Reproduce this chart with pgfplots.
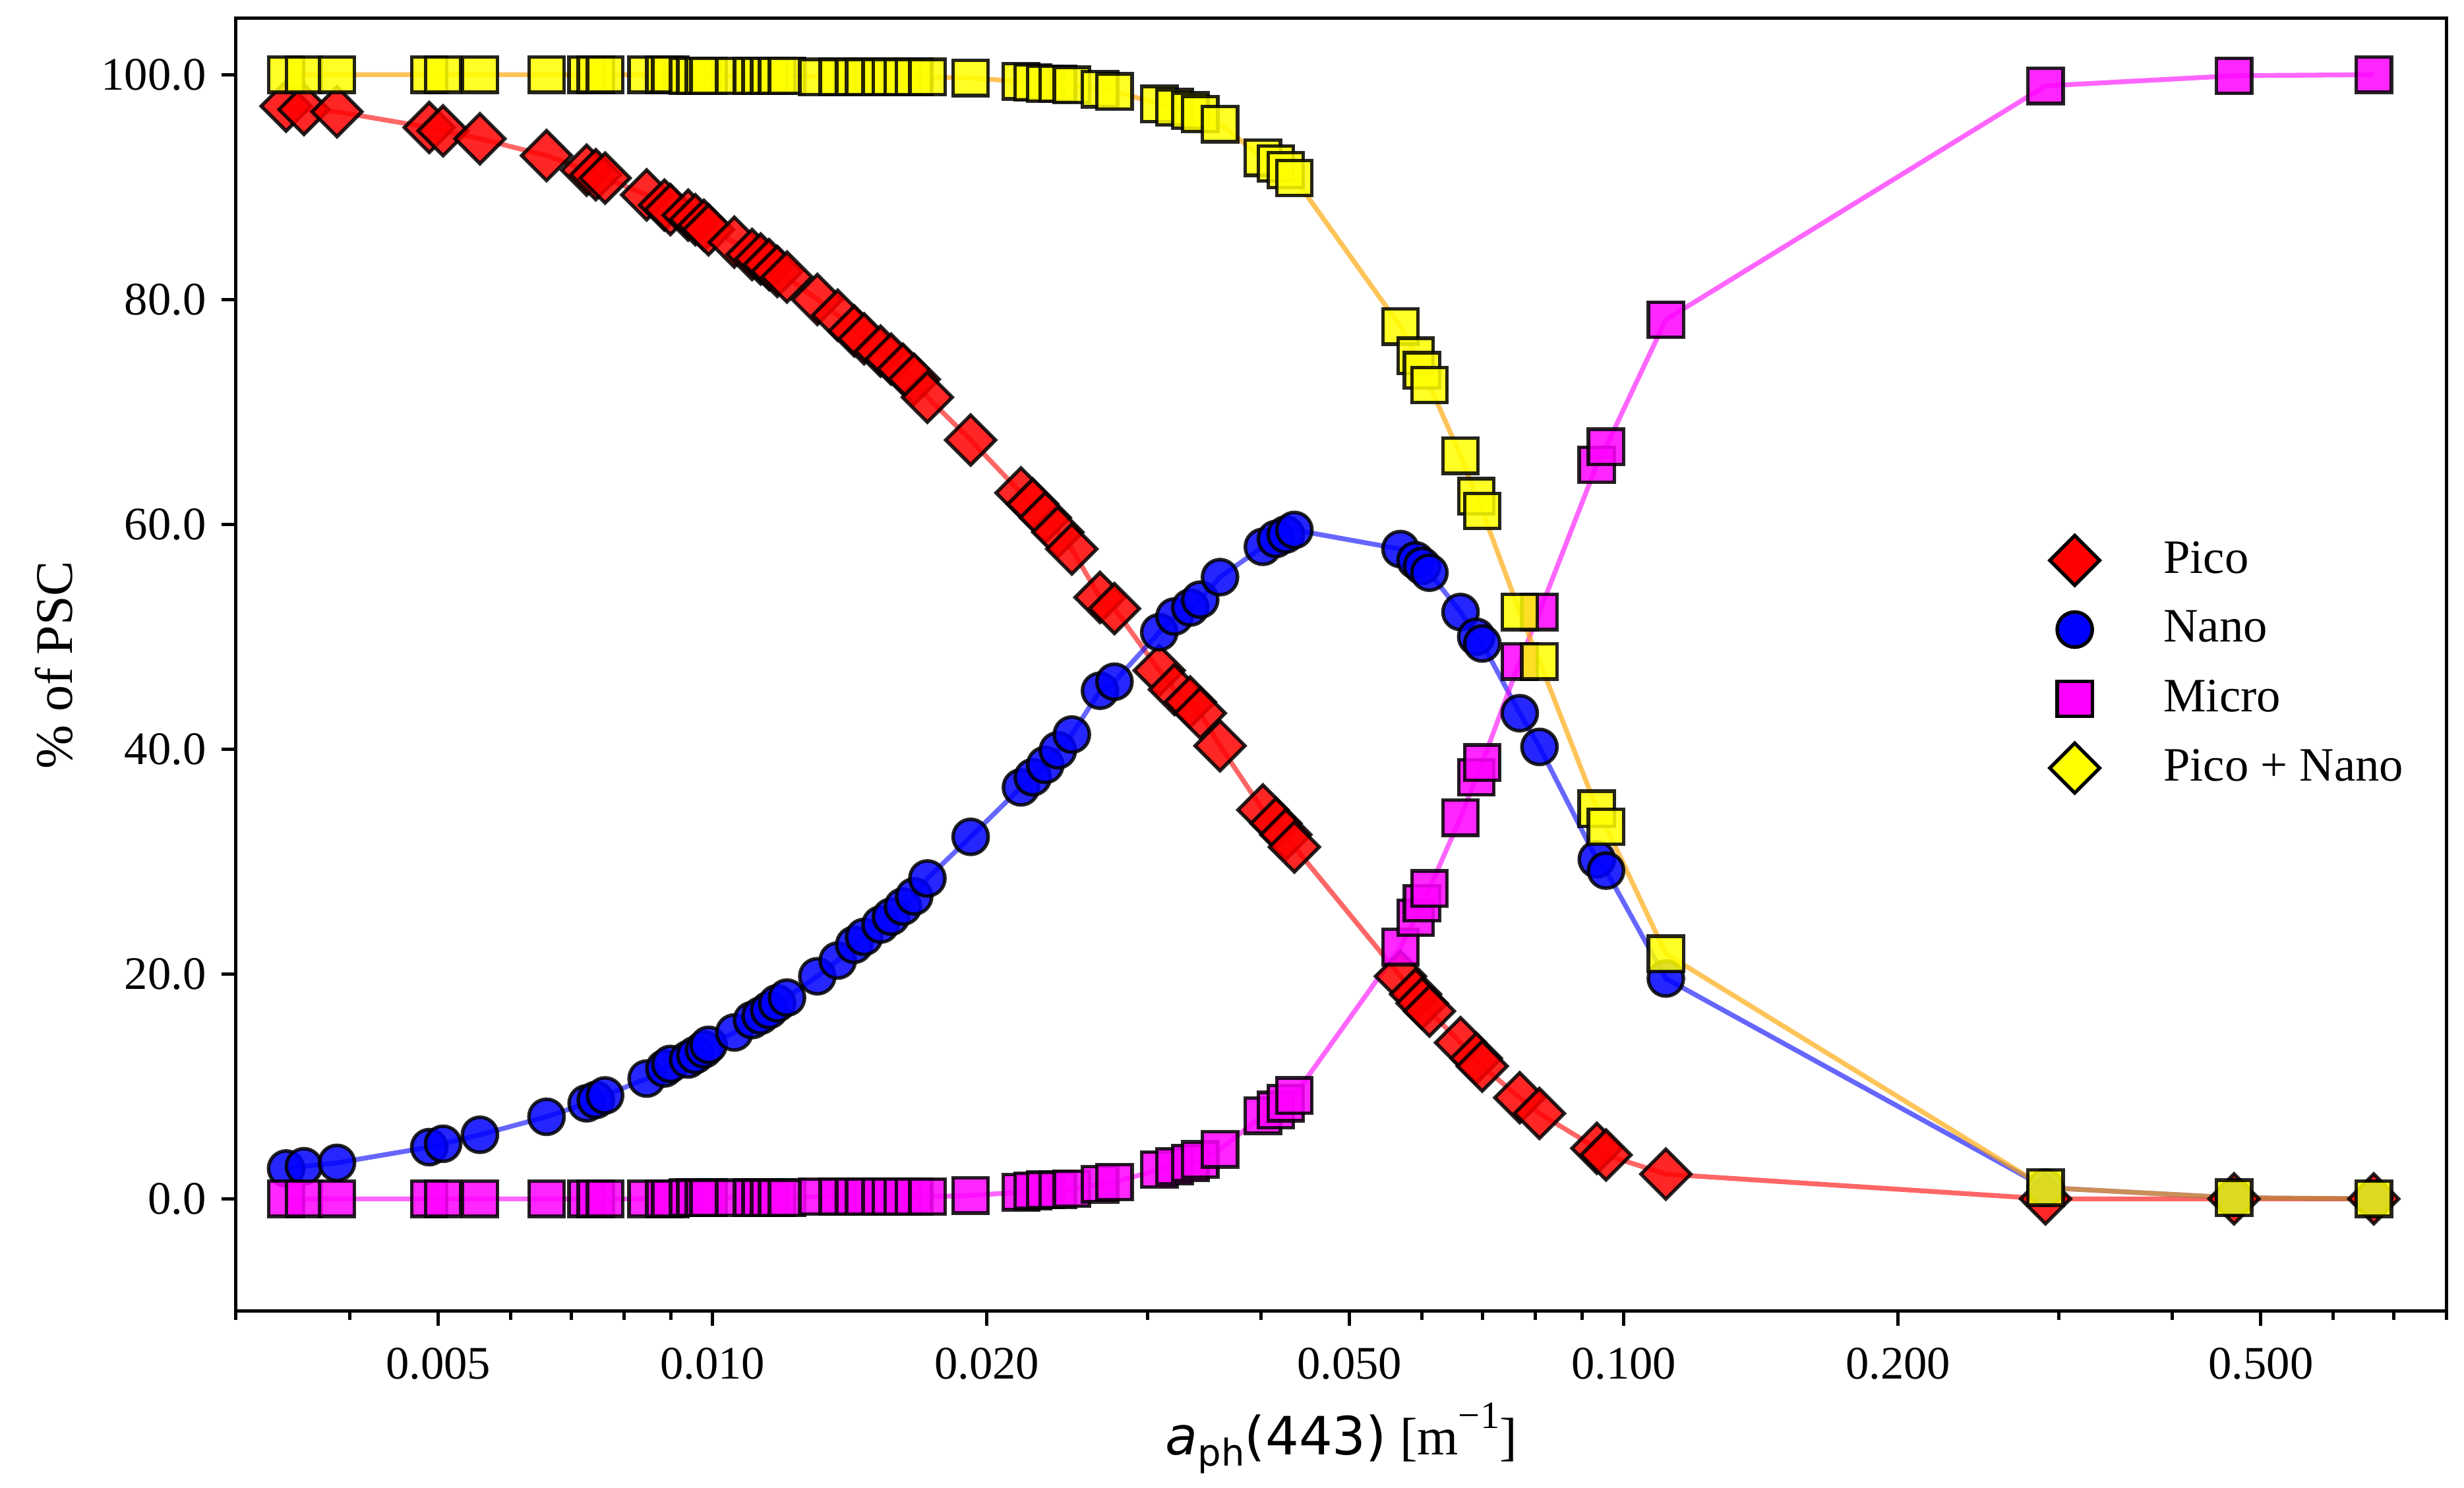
\documentclass[border=0pt]{standalone}
\usepackage{fontspec}
\setmainfont{Liberation Serif}
\newfontfamily\dejavu{DejaVu Sans}
\usepackage{pgfplots}
\usepackage{pgfplotstable}
\pgfplotsset{compat=1.18}
\definecolor{mred}{RGB}{255,0,0}
\definecolor{mblue}{RGB}{0,0,255}
\definecolor{mmag}{RGB}{255,0,255}
\definecolor{myel}{RGB}{255,255,0}
\definecolor{morange}{RGB}{255,165,0}
\pgfplotstableread{
x pico nano micro pn
0.003405 97.2 2.7 0.0 100.0
0.003562 96.9 2.9 0.0 100.0
0.003872 96.7 3.2 0.0 100.0
0.004888 95.3 4.6 0.0 100.0
0.005062 95.0 4.9 0.0 100.0
0.005556 94.3 5.7 0.0 100.0
0.006574 92.8 7.3 0.0 100.0
0.007277 91.5 8.5 0.0 100.0
0.007447 91.1 8.8 0.0 100.0
0.007623 90.8 9.2 0.0 100.0
0.008467 89.3 10.7 0.0 100.0
0.008856 88.4 11.6 0.0 100.0
0.008990 88.0 12.0 0.0 100.0
0.009402 87.5 12.4 0.1 99.9
0.009576 87.1 12.8 0.1 99.9
0.009786 86.6 13.3 0.1 99.9
0.009901 86.2 13.7 0.1 99.9
0.010566 85.1 14.8 0.1 99.9
0.011050 84.0 15.9 0.1 99.9
0.011293 83.6 16.3 0.1 99.9
0.011539 83.1 16.8 0.1 99.9
0.011774 82.5 17.4 0.1 99.9
0.012070 82.0 17.9 0.1 99.9
0.013031 80.0 19.8 0.2 99.8
0.013722 78.6 21.2 0.2 99.8
0.014305 77.2 22.6 0.2 99.8
0.014667 76.5 23.3 0.2 99.8
0.015290 75.4 24.4 0.2 99.8
0.015700 74.7 25.1 0.2 99.8
0.016180 73.8 26.0 0.2 99.8
0.016645 72.9 26.9 0.2 99.8
0.017210 71.3 28.5 0.2 99.8
0.019200 67.5 32.2 0.3 99.7
0.021800 62.8 36.6 0.6 99.4
0.022460 61.8 37.5 0.7 99.3
0.023180 60.6 38.6 0.8 99.2
0.023930 59.3 39.9 0.8 99.2
0.024790 57.8 41.3 0.9 99.1
0.026620 53.5 45.2 1.3 98.7
0.027610 52.5 46.0 1.5 98.5
0.030920 47.0 50.4 2.6 97.4
0.032130 45.3 51.8 2.9 97.1
0.033440 44.2 52.6 3.2 96.8
0.034290 43.2 53.3 3.5 96.5
0.036050 40.3 55.3 4.4 95.6
0.040170 34.6 58.0 7.4 92.6
0.041520 33.4 58.7 7.9 92.1
0.042570 32.4 59.1 8.5 91.5
0.043500 31.3 59.5 9.2 90.8
0.056870 19.8 57.8 22.4 77.6
0.059080 18.2 56.8 25.0 75.0
0.060070 17.4 56.3 26.3 73.7
0.061190 16.7 55.7 27.6 72.4
0.066190 13.9 52.2 33.9 66.1
0.068870 12.5 50.0 37.5 62.5
0.069930 11.8 49.4 38.8 61.2
0.076880 9.0 43.2 47.8 52.2
0.080800 7.6 40.2 52.2 47.8
0.093400 4.5 30.2 65.3 34.7
0.095600 3.9 29.2 66.9 33.1
0.111200 2.2 19.6 78.2 21.8
0.290200 0.0 1.0 99.0 1.0
0.467300 0.0 0.1 99.9 0.1
0.665200 0.0 0.0 100.0 0.0
}\data

\begin{document}
\begin{tikzpicture}
\begin{axis}[
  name=ax,
  xmode=log,
  scale only axis,
  width=502.95pt, height=294.15pt,
  xmin=0.003, xmax=0.8,
  ymin=-10, ymax=105,
  xtick={0.005,0.01,0.02,0.05,0.1,0.2,0.5},
  xticklabels={0.005,0.010,0.020,0.050,0.100,0.200,0.500},
  minor xtick={0.003,0.004,0.006,0.007,0.008,0.009,0.03,0.04,0.06,0.07,0.08,0.09,0.3,0.4,0.6,0.7,0.8},
  ytick={0,20,40,60,80,100},
  yticklabels={0.0,20.0,40.0,60.0,80.0,100.0},
  minor ytick={},
  xtick pos=bottom, ytick pos=left,
  tick align=outside,
  major tick length=3.3pt,
  minor tick length=2pt,
  every tick/.style={black, line width=0.75pt},
  axis line style={line width=0.75pt},
  ticklabel style={font=\fontsize{10.6}{12}\selectfont},
  xticklabel style={yshift=-1.5pt},
  xlabel={{\dejavu\textit{a}\raisebox{-0.22em}{\fontsize{8.4}{9}\selectfont ph}(443)}\ [m\raisebox{0.5em}{\fontsize{8.8}{9}\selectfont −1}]},
  ylabel={\% of PSC},
  label style={font=\fontsize{12}{14}\selectfont},
  xlabel style={at={(axis description cs:0.5,-0.1107)}, anchor=base, inner sep=0pt},
  ylabel style={at={(axis description cs:-0.074,0.5)}, anchor=base, rotate=0, inner sep=0pt},
  legend image code/.code={\draw[mark repeat=2,mark phase=2,#1] plot coordinates {(0pt,0pt)(8.5pt,0pt)(17pt,0pt)}; \path (0pt,0pt) (27pt,0pt);},
  legend style={draw=none, fill=none, at={(0.814,0.5005)}, anchor=west, inner sep=0pt,
    font=\fontsize{10.9}{13}\selectfont, row sep=0pt,
    nodes={inner sep=1.5pt, minimum height=15.75pt}},
  legend cell align=left,
]
% markers
\addplot[forget plot, only marks, mark=square*, mark size=4pt,
  mark options={rotate=45, fill=mred, draw=black, line width=0.8pt, opacity=0.85}]
  table[x=x, y=pico]{\data};
\addplot[forget plot, only marks, mark=*, mark size=4pt,
  mark options={fill=mblue, draw=black, line width=0.8pt, opacity=0.85}]
  table[x=x, y=nano]{\data};
\addplot[forget plot, only marks, mark=square*, mark size=4pt,
  mark options={fill=mmag, draw=black, line width=0.8pt, opacity=0.85}]
  table[x=x, y=micro]{\data};
\addplot[forget plot, only marks, mark=square*, mark size=4pt,
  mark options={fill=myel, draw=black, line width=0.8pt, opacity=0.85}]
  table[x=x, y=pn]{\data};
% lines
\addplot[forget plot, no marks, draw=mred, opacity=0.6, line width=1.1pt] table[x=x, y=pico]{\data};
\addplot[forget plot, no marks, draw=mblue, opacity=0.6, line width=1.1pt] table[x=x, y=nano]{\data};
\addplot[forget plot, no marks, draw=mmag, opacity=0.6, line width=1.1pt] table[x=x, y=micro]{\data};
\addplot[forget plot, no marks, draw=morange, opacity=0.65, line width=1.1pt] table[x=x, y=pn]{\data};
% legend
\addlegendimage{only marks, mark=square*, mark size=4pt, mark options={rotate=45, fill=mred, draw=black, line width=0.8pt}}
\addlegendentry{Pico}
\addlegendimage{only marks, mark=*, mark size=4pt, mark options={fill=mblue, draw=black, line width=0.8pt}}
\addlegendentry{Nano}
\addlegendimage{only marks, mark=square*, mark size=4pt, mark options={fill=mmag, draw=black, line width=0.8pt}}
\addlegendentry{Micro}
\addlegendimage{only marks, mark=square*, mark size=4pt, mark options={rotate=45, fill=myel, draw=black, line width=0.8pt}}
\addlegendentry{Pico + Nano}
\end{axis}
\pgfresetboundingbox
\path[use as bounding box] ([shift={(-53.7pt,-40.1pt)}]ax.south west) rectangle ([shift={(3.9pt,4.2pt)}]ax.north east);
\end{tikzpicture}
\end{document}
